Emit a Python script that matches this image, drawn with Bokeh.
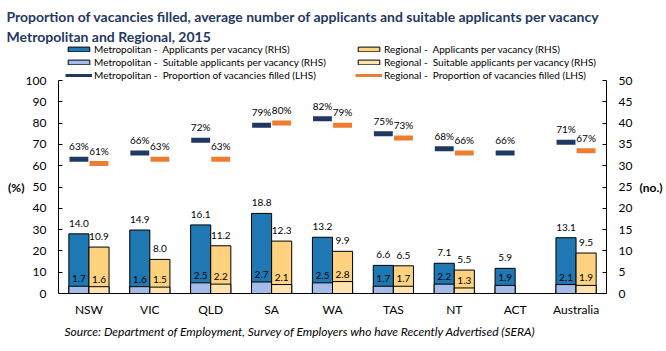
from bokeh.plotting import figure
from bokeh.models import (FactorRange, Range1d, LinearAxis, ColumnDataSource, Legend,
                          LegendItem, Title, SingleIntervalTicker, FixedTicker)
from bokeh.transform import dodge
from bokeh.core.properties import value
from bokeh.embed import file_html
from bokeh.resources import INLINE

# ---------------- data ----------------
categories = ["NSW", "VIC", "QLD", "SA", "WA", "TAS", "NT", "ACT", "Australia"]
metro_applicants = [14.0, 14.9, 16.1, 18.8, 13.2, 6.6, 7.1, 5.9, 13.1]
metro_suitable = [1.7, 1.6, 2.5, 2.7, 2.5, 1.7, 2.2, 1.9, 2.1]
metro_filled = [63, 66, 72, 79, 82, 75, 68, 66, 71]
regional_applicants = [10.9, 8.0, 11.2, 12.3, 9.9, 6.5, 5.5, None, 9.5]
regional_suitable = [1.6, 1.5, 2.2, 2.1, 2.8, 1.7, 1.3, None, 1.9]
regional_filled = [61, 63, 63, 80, 79, 73, 66, None, 67]

title_lines = ["Proportion of vacancies filled, average number of applicants and suitable applicants per vacancy",
               "Metropolitan and Regional, 2015"]
source_text = "Source: Department of Employment, Survey of Employers who have Recently Advertised (SERA)"
lhs_label, rhs_label = "(%)", "(no.)"
lhs_max, rhs_max = 100, 50

FONT = "Lato"
C_MAPP = "#1F78B4"
C_MSUIT = "#A3BCE8"
C_RAPP = "#FFD27F"
C_RSUIT = "#FFE3B0"
C_MLINE = "#1F3864"
C_RLINE = "#ED7D31"

metro = ColumnDataSource(dict(
    cat=categories, app=metro_applicants, suit=metro_suitable, filled=metro_filled,
    app_lbl=[f"{v:.1f}" for v in metro_applicants],
    suit_lbl=[f"{v:.1f}" for v in metro_suitable],
    filled_lbl=[f"{v}%" for v in metro_filled],
))
ri = [i for i, v in enumerate(regional_applicants) if v is not None]
regional = ColumnDataSource(dict(
    cat=[categories[i] for i in ri],
    app=[regional_applicants[i] for i in ri],
    suit=[regional_suitable[i] for i in ri],
    filled=[regional_filled[i] for i in ri],
    app_lbl=[f"{regional_applicants[i]:.1f}" for i in ri],
    suit_lbl=[f"{regional_suitable[i]:.1f}" for i in ri],
    filled_lbl=[f"{regional_filled[i]}%" for i in ri],
))

# layout (pixels): frame spans y 44..293; value axes run from 293 (0) up to 80 (max)
W, H = 666, 351
TOP, BOTTOM = 44, 58
frame_h = H - TOP - BOTTOM
axis_h = frame_h - (80 - TOP)
stretch = frame_h / axis_h

p = figure(width=W, height=H, x_range=FactorRange(*categories),
           y_range=Range1d(0, lhs_max * stretch),
           output_backend="svg", toolbar_location=None, title_location=None,
           min_border_left=58, min_border_right=60, min_border_top=TOP, min_border_bottom=BOTTOM)
p.extra_y_ranges = {"rhs": Range1d(0, rhs_max * stretch)}
p.outline_line_color = None
p.xgrid.grid_line_color = None
p.ygrid.grid_line_color = None
p.background_fill_color = "white"
p.border_fill_color = "white"

OFF = 0.165
BW = 0.33

r_mapp = p.vbar(x=dodge("cat", -OFF, range=p.x_range), top="app", width=BW, source=metro,
                y_range_name="rhs", fill_color=C_MAPP, line_color="black", line_width=1)
r_msuit = p.vbar(x=dodge("cat", -OFF, range=p.x_range), top="suit", width=BW, source=metro,
                 y_range_name="rhs", fill_color=C_MSUIT, line_color="black", line_width=1)
r_rapp = p.vbar(x=dodge("cat", OFF, range=p.x_range), top="app", width=BW, source=regional,
                y_range_name="rhs", fill_color=C_RAPP, line_color="black", line_width=1)
r_rsuit = p.vbar(x=dodge("cat", OFF, range=p.x_range), top="suit", width=BW, source=regional,
                 y_range_name="rhs", fill_color=C_RSUIT, line_color="black", line_width=1)

p.rect(x=dodge("cat", -OFF, range=p.x_range), y="filled", width=0.31, height=5,
       height_units="screen", source=metro, fill_color=C_MLINE, line_color=None)
p.rect(x=dodge("cat", OFF, range=p.x_range), y="filled", width=0.31, height=5,
       height_units="screen", source=regional, fill_color=C_RLINE, line_color=None)

# invisible line renderers for the legend entries of the LHS series
r_mline = p.line(x=dodge("cat", -OFF, range=p.x_range), y="filled", source=metro,
                 line_color=C_MLINE, line_width=3, visible=False)
r_rline = p.line(x=dodge("cat", OFF, range=p.x_range), y="filled", source=regional,
                 line_color=C_RLINE, line_width=3, visible=False)

lbl_kw = dict(text_font=value(FONT), text_font_size="10px", text_color="black",
              text_align="center", text_baseline="bottom")
p.text(x=dodge("cat", -OFF, range=p.x_range), y="app", text="app_lbl", source=metro,
       y_range_name="rhs", y_offset=-7, **lbl_kw)
p.text(x=dodge("cat", OFF, range=p.x_range), y="app", text="app_lbl", source=regional,
       y_range_name="rhs", y_offset=-7, **lbl_kw)
p.text(x=dodge("cat", -OFF, range=p.x_range), y="suit", text="suit_lbl", source=metro,
       y_range_name="rhs", y_offset=-4, **lbl_kw)
p.text(x=dodge("cat", OFF, range=p.x_range), y="suit", text="suit_lbl", source=regional,
       y_range_name="rhs", y_offset=-4, **lbl_kw)
p.text(x=dodge("cat", -OFF, range=p.x_range), y="filled", text="filled_lbl", source=metro,
       y_offset=-7, **lbl_kw)
p.text(x=dodge("cat", OFF, range=p.x_range), y="filled", text="filled_lbl", source=regional,
       y_offset=-7, **lbl_kw)

# axes
def style_axis(ax):
    ax.axis_line_color = "black"
    ax.axis_line_width = 1
    ax.major_tick_line_color = "black"
    ax.minor_tick_line_color = None
    ax.major_label_text_font = FONT
    ax.major_label_text_font_size = "12px"
    ax.major_label_text_color = "black"

lax = p.yaxis[0]
style_axis(lax)
lax.ticker = SingleIntervalTicker(interval=10)
lax.bounds = (0, lhs_max)
lax.major_tick_in = 4
lax.major_tick_out = 0
lax.major_label_standoff = 8

rax = LinearAxis(y_range_name="rhs", ticker=SingleIntervalTicker(interval=5), bounds=(0, rhs_max))
style_axis(rax)
rax.major_tick_in = 4
rax.major_tick_out = 0
rax.major_label_standoff = 8
p.add_layout(rax, "right")

# unit labels: label-only axes level with the middle of each value axis
def unit_axis(range_name, mid, text, standoff):
    ax = LinearAxis(y_range_name=range_name, ticker=FixedTicker(ticks=[mid]),
                    major_label_overrides={mid: text})
    ax.axis_line_color = None
    ax.major_tick_line_color = None
    ax.minor_tick_line_color = None
    ax.major_tick_in = 0
    ax.major_tick_out = 0
    ax.major_label_standoff = standoff
    ax.major_label_text_font = FONT
    ax.major_label_text_font_size = "12px"
    ax.major_label_text_font_style = "bold"
    ax.major_label_text_color = "black"
    return ax

p.add_layout(unit_axis("default", lhs_max / 2, lhs_label, -2), "left")
p.add_layout(unit_axis("rhs", rhs_max / 2, rhs_label, 4), "right")

bax = p.xaxis[0]
style_axis(bax)
bax.major_tick_line_color = None
bax.major_tick_in = 0
bax.major_tick_out = 0
bax.major_label_standoff = 8

# source note below the x axis
p.add_layout(Title(text=source_text, align="left", offset=6, text_font=FONT,
                   text_font_size="12px", text_font_style="italic", text_color="black",
                   standoff=5), "below")

# legend: two columns at the top of the frame
leg_kw = dict(label_text_font=FONT, label_text_font_size="10px", label_text_color="black",
              glyph_width=27, glyph_height=6, label_height=12, label_standoff=2,
              spacing=1, padding=0, margin=0, border_line_color=None,
              background_fill_alpha=0, click_policy="none")
leg1 = Legend(items=[LegendItem(label="Metropolitan -  Applicants per vacancy (RHS)", renderers=[r_mapp]),
                     LegendItem(label="Metropolitan -  Suitable applicants per vacancy (RHS)", renderers=[r_msuit]),
                     LegendItem(label="Metropolitan -  Proportion of vacancies filled (LHS)", renderers=[r_mline])],
              location=(7, 212), **leg_kw)
leg2 = Legend(items=[LegendItem(label="Regional -  Applicants per vacancy (RHS)", renderers=[r_rapp]),
                     LegendItem(label="Regional -  Suitable applicants per vacancy (RHS)", renderers=[r_rsuit]),
                     LegendItem(label="Regional -  Proportion of vacancies filled (LHS)", renderers=[r_rline])],
              location=(297, 212), **leg_kw)
p.add_layout(leg1, "center")
p.add_layout(leg2, "center")

# two-line title (added outward: second line first)
for t, so in zip(reversed(title_lines), (0, 1)):
    p.add_layout(Title(text=t, align="left", offset=-52, text_font=FONT, text_font_size="14px",
                       text_font_style="bold", text_color="#1F3864", standoff=so), "above")

open("out.html", "w").write(file_html(p, INLINE))
